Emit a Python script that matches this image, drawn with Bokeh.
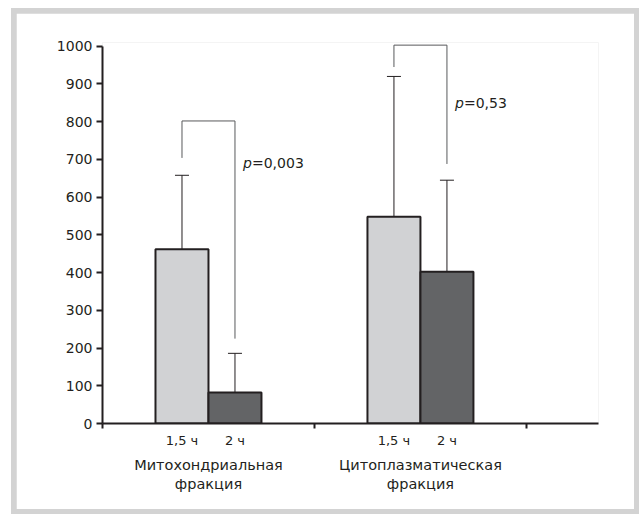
from bokeh.plotting import figure
from bokeh.layouts import column
from bokeh.models import (ColumnDataSource, LinearAxis, FixedTicker, Range1d,
                          Whisker, TeeHead)
from bokeh.core.properties import value
from bokeh.embed import file_html
from bokeh.resources import INLINE

# ---- data ----
groups = ["Митохондриальная\nфракция", "Цитоплазматическая\nфракция"]
times = ["1,5 ч", "2 ч"]
mean_15 = [462, 548]
mean_2 = [82, 402]
upper_15 = [658, 920]
upper_2 = [186, 645]
bracket_top = [802, 1003]
bracket_left_end = [704, 945]
bracket_right_end = [225, 688]
p_values = ["=0,003", "=0,53"]
p_label_y = [690, 850]
y_ticks = list(range(0, 1001, 100))

FONT = "DejaVu Sans"
INK = "#231f20"
LIGHT = "#d1d2d4"
DARK = "#636466"
BRACKET = "#58595b"
FRAME = "#d3d3d3"

half = 0.125  # half of a bar's width in category units
centers = [i + 0.5 for i in range(len(groups))]
x15 = [c - half for c in centers]
x2 = [c + half for c in centers]

p = figure(width=618, height=496, output_backend="svg", toolbar_location=None,
           x_range=Range1d(0, 2.34), y_range=Range1d(0, 1010),
           x_axis_type=None, y_axis_type=None,
           min_border_left=86, min_border_right=36, min_border_top=29,
           min_border_bottom=86, margin=(5, 5, 5, 5))
p.background_fill_color = "white"
p.border_fill_color = "white"
p.outline_line_color = None
p.xgrid.visible = False
p.ygrid.visible = False

# y axis
ya = LinearAxis(ticker=FixedTicker(ticks=y_ticks), bounds=(0, 1000))
ya.axis_line_width = 2
ya.axis_line_color = INK
ya.major_tick_line_width = 2
ya.major_tick_line_color = INK
ya.major_tick_out = 6
ya.major_tick_in = 0
ya.minor_tick_line_color = None
ya.major_label_text_font = FONT
ya.major_label_text_font_size = "14px"
ya.major_label_text_color = INK
ya.major_label_standoff = 4
p.add_layout(ya, "left")

# x axis with ticks at category boundaries
xa = LinearAxis(ticker=FixedTicker(ticks=[0, 1, 2]))
xa.axis_line_width = 2
xa.axis_line_color = INK
xa.major_tick_line_width = 2
xa.major_tick_line_color = INK
xa.major_tick_out = 5
xa.major_tick_in = 0
xa.minor_tick_line_color = None
xa.major_label_overrides = {0: "", 1: "", 2: ""}
xa.major_label_text_font_size = "0px"
xa.major_label_standoff = 0
p.add_layout(xa, "below")

# x axis with the time labels
xt = LinearAxis(ticker=FixedTicker(ticks=x15 + x2))
xt.axis_line_color = None
xt.major_tick_line_color = None
xt.minor_tick_line_color = None
xt.major_tick_out = 0
xt.major_label_overrides = {**{x: times[0] for x in x15}, **{x: times[1] for x in x2}}
xt.major_label_text_font = FONT
xt.major_label_text_font_size = "13px"
xt.major_label_text_color = INK
xt.major_label_standoff = 4
p.add_layout(xt, "below")

# x axis with the group labels
xg = LinearAxis(ticker=FixedTicker(ticks=centers))
xg.axis_line_color = None
xg.major_tick_line_color = None
xg.minor_tick_line_color = None
xg.major_tick_out = 0
xg.major_label_overrides = {c: g for c, g in zip(centers, groups)}
xg.major_label_text_font = FONT
xg.major_label_text_font_size = "14.5px"
xg.major_label_text_color = INK
xg.major_label_standoff = 6
p.add_layout(xg, "below")

# bars
src = ColumnDataSource(dict(x15=x15, x2=x2, m15=mean_15, m2=mean_2,
                            u15=upper_15, u2=upper_2))
p.vbar(x="x15", top="m15", bottom=0, width=2 * half, source=src,
       fill_color=LIGHT, line_color=INK, line_width=2)
p.vbar(x="x2", top="m2", bottom=0, width=2 * half, source=src,
       fill_color=DARK, line_color=INK, line_width=2)

# error bars (upper only)
for lo, up, xs in (("m15", "u15", "x15"), ("m2", "u2", "x2")):
    w = Whisker(source=src, base=xs, lower=lo, upper=up, dimension="height",
                line_color=INK, line_width=1,
                upper_head=TeeHead(size=14, line_color=INK, line_width=1),
                lower_head=None, level="underlay")
    p.add_layout(w)

# significance brackets
bx = [[a, a, b, b] for a, b in zip(x15, x2)]
by = [[l, t, t, r] for l, t, r in zip(bracket_left_end, bracket_top, bracket_right_end)]
p.multi_line(xs=bx, ys=by, line_color=BRACKET, line_width=1)

# p-value labels
p.text(x=x2, y=p_label_y, text=["p"] * len(x2), x_offset=8,
       text_font=value(FONT), text_font_size="14px", text_font_style="italic",
       text_color=INK, text_baseline="middle", text_align="left")
p.text(x=x2, y=p_label_y, text=p_values, x_offset=17,
       text_font=value(FONT), text_font_size="14px",
       text_color=INK, text_baseline="middle", text_align="left")

# light grey frame around the chart
page = column(p, margin=(8, 0, 0, 11), styles={"background-color": FRAME})

open("out.html", "w").write(file_html(page, INLINE))
